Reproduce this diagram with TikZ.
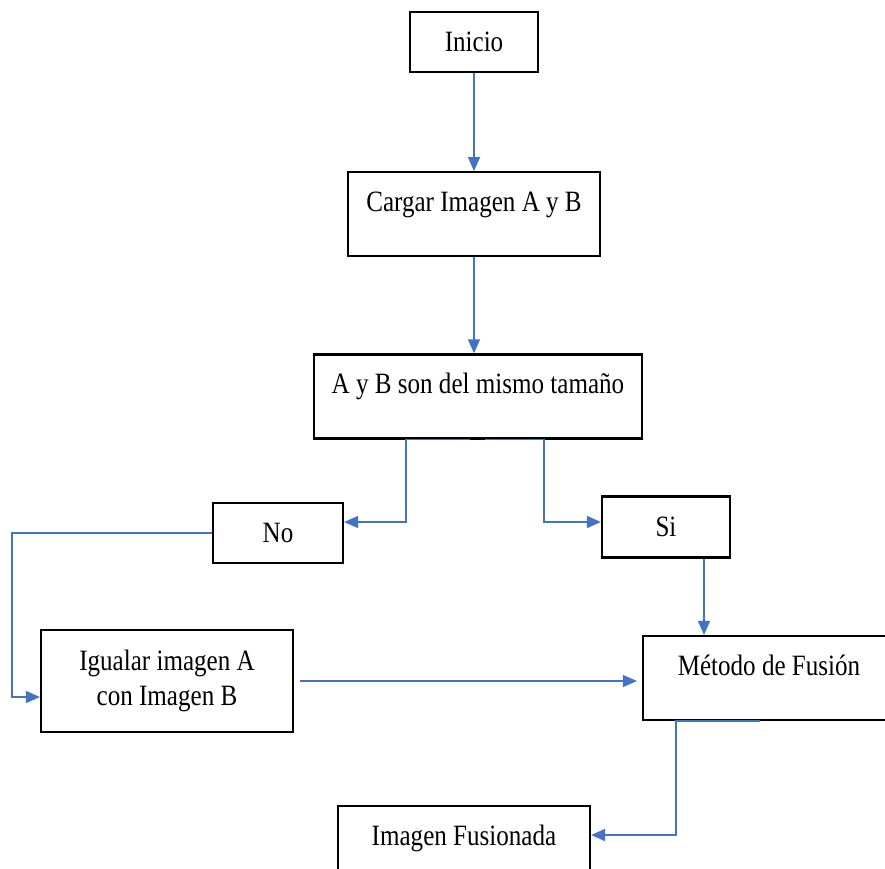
\documentclass[tikz,border=0pt]{standalone}
\usepackage{fontspec}
\setmainfont{Liberation Serif}[FakeStretch=0.85]
\usepackage{tikz}
\usetikzlibrary{arrows.meta,positioning}
\definecolor{FlowBlue}{HTML}{4472C4}
\tikzset{
  box/.style={rectangle, draw=black, line width=2.2pt, fill=white,
    inner sep=0pt, align=center, font=\fontsize{29.5}{35}\selectfont},
  upper/.style={text height=39pt, text depth=45pt},
  arrow/.style={-{Triangle[length=14pt,width=12pt]}, line width=1.6pt, draw=FlowBlue}
}
\begin{document}
\begin{tikzpicture}[x=1pt,y=-1pt]
  \clip (0,0) rectangle (885,868);
  \fill[white] (0,0) rectangle (885,868);
  \node[box, minimum width=128pt, minimum height=60pt] (inicio) at (474,42) {Inicio};
  \node[box, upper, minimum width=252pt, below=98pt of inicio] (cargar) {Cargar Imagen A y B};
  \node[box, upper, minimum width=328pt, below=96pt of cargar, xshift=4pt] (tamano) {A y B son del mismo tamaño};
  \node[box, minimum width=130pt, minimum height=60pt] (no) at (278,533) {No};
  \node[box, minimum width=128pt, minimum height=61pt] (si) at (666,527) {Si};
  \node[box, minimum width=252pt, minimum height=102pt] (igualar) at (167,681) {Igualar imagen A\\con Imagen B};
  \node[box, upper, minimum width=252pt] (metodo) at (769,678) {Método de Fusión};
  \node[box, upper, minimum width=252pt] (fusion) at (464,848) {Imagen Fusionada};
  \draw[arrow] (inicio) -- (cargar);
  \draw[arrow] (cargar.south) -- (cargar.south |- tamano.north);
  \draw[arrow] ([xshift=-8pt]tamano.south) -- ++(-64,0) |- ([yshift=11pt]no.east);
  \draw[arrow] ([xshift=7pt]tamano.south) -- ++(59,0) |- ([yshift=5pt]si.west);
  \draw[arrow] (no.west) -- ++(-200,0) |- ([yshift=-16pt]igualar.west);
  \draw[arrow, shorten >=5pt] ([xshift=6pt]igualar.east) -- (igualar.east -| metodo.west);
  \draw[arrow] ([xshift=38pt]si.south) -- ([xshift=38pt]si.south |- metodo.north);
  \draw[arrow] ([xshift=-9pt]metodo.south) -- ++(-84,0) |- ([yshift=13pt]fusion.east);
\end{tikzpicture}
\end{document}
